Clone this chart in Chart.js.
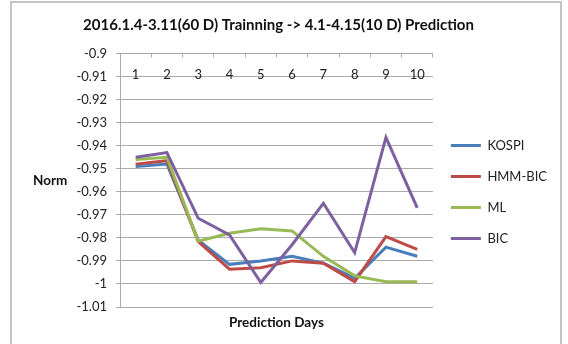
<!DOCTYPE html>
<html>
<head>
<meta charset="utf-8">
<script src="https://cdn.jsdelivr.net/npm/chart.js@4.4.1/dist/chart.umd.min.js"></script>
<style>
  html, body { margin: 0; padding: 0; background: #fff; }
  #wrap { position: relative; width: 568px; height: 344px; overflow: hidden; }
  #frame { position: absolute; left: 10px; top: 1px; width: 548px; height: 360px; border: 2px solid #c4c4c4; pointer-events: none; }
  canvas { position: absolute; left: 0; top: 0; }
</style>
</head>
<body>
<div id="wrap">
  <canvas id="myChart" width="568" height="344"></canvas>
  <div id="frame"></div>
</div>
<script>
// data
const days = ['1', '2', '3', '4', '5', '6', '7', '8', '9', '10'];
const kospi = [-0.949, -0.948, -0.981, -0.9915, -0.990, -0.988, -0.991, -0.9975, -0.984, -0.988];
const hmmBic = [-0.948, -0.9465, -0.9816, -0.9936, -0.993, -0.990, -0.991, -0.999, -0.9795, -0.985];
const ml = [-0.946, -0.945, -0.9815, -0.978, -0.976, -0.977, -0.988, -0.9965, -0.999, -0.999];
const bic = [-0.945, -0.943, -0.9715, -0.9787, -0.9994, -0.983, -0.965, -0.9864, -0.9364, -0.967];
const yMin = -1.01, yMax = -0.9, yStep = 0.01;

const font = 'Lato';
const gridColor = '#ababab';

Chart.defaults.font.family = font;
Chart.defaults.color = '#222';

// horizontal "Norm" label left of the y axis
const normLabel = {
  id: 'normLabel',
  afterDraw(chart) {
    const ctx = chart.ctx;
    ctx.save();
    ctx.font = 'bold 13.5px ' + font;
    ctx.fillStyle = '#111';
    ctx.textAlign = 'left';
    ctx.textBaseline = 'middle';
    ctx.fillText('Norm', chart.chartArea.left - 87, 181);
    ctx.restore();
  }
};

const line = (label, data, color, order) => ({
  label, data, order,
  borderColor: color,
  backgroundColor: color,
  borderWidth: 3,
  pointRadius: 0,
  tension: 0,
  xAxisID: 'x',
  yAxisID: 'y'
});

const myChart = new Chart(document.getElementById('myChart'), {
  type: 'line',
  data: {
    labels: days,
    datasets: [
      line('KOSPI', kospi, '#4A7EBB', 4),
      line('HMM-BIC', hmmBic, '#BE4B48', 3),
      line('ML', ml, '#98B954', 2),
      line('BIC', bic, '#7D60A0', 1)
    ]
  },
  options: {
    responsive: false,
    animation: false,
    devicePixelRatio: 1,
    layout: { padding: { left: 0, right: 11, top: 0, bottom: 0 } },
    plugins: {
      title: {
        display: true,
        text: '2016.1.4-3.11(60 D) Trainning -> 4.1-4.15(10 D) Prediction',
        font: { size: 15, weight: 'bold' },
        color: '#111',
        padding: { top: 16, bottom: 19.5 }
      },
      legend: {
        position: 'right',
        title: { display: true, text: '', padding: { top: 25.6, bottom: 0 } },
        labels: {
          usePointStyle: true,
          pointStyle: 'line',
          pointStyleWidth: 30,
          padding: 18,
          font: { size: 13 },
          color: '#222',
          sort: (a, b) => a.datasetIndex - b.datasetIndex
        }
      },
      tooltip: { enabled: false }
    },
    scales: {
      x: {
        type: 'category',
        position: 'top',
        offset: true,
        grid: { display: true, drawOnChartArea: false, offset: true, color: gridColor, tickLength: -4 },
        border: { display: true, color: gridColor },
        ticks: { mirror: true, padding: 13.7, font: { size: 13 }, color: '#222', maxRotation: 0, autoSkip: false },
        afterFit: s => { s.height = 0; }
      },
      xb: {
        type: 'category',
        position: 'bottom',
        labels: days,
        grid: { display: false, drawTicks: false },
        border: { display: false },
        ticks: { display: false },
        title: { display: true, text: 'Prediction Days', font: { size: 13.5, weight: 'bold' }, color: '#111', padding: { top: 7.9, bottom: 12.9 } }
      },
      y: {
        type: 'linear',
        position: 'left',
        min: yMin,
        max: yMax,
        ticks: {
          stepSize: yStep,
          padding: 9,
          font: { size: 13 },
          color: '#222',
          callback: v => String(+v.toFixed(2))
        },
        grid: { color: gridColor, tickLength: 4 },
        border: { display: true, color: gridColor },
        afterFit: s => { s.width = 120; }
      }
    }
  },
  plugins: [normLabel]
});
</script>
</body>
</html>
